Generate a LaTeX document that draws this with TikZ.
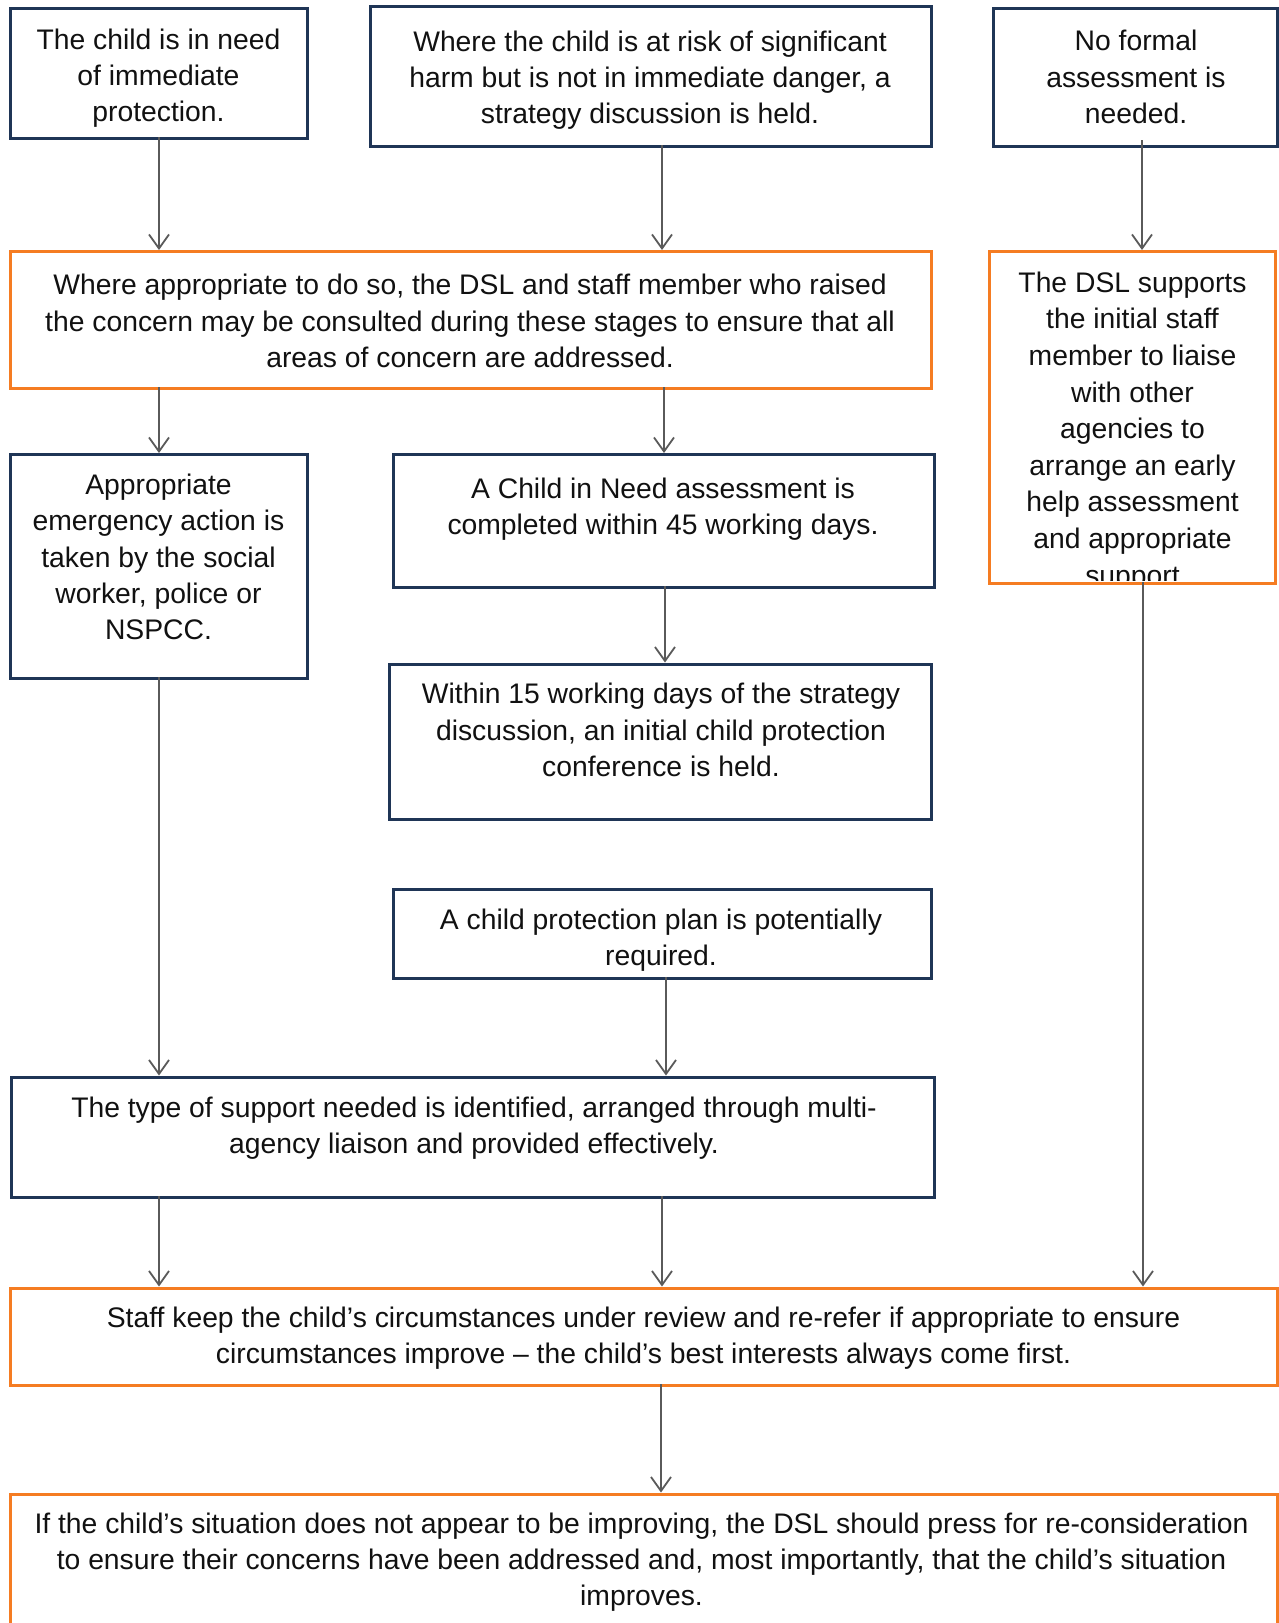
\documentclass[tikz,border=0pt]{standalone}
\usepackage{fontspec}
\setmainfont{Liberation Sans}
\usetikzlibrary{arrows.meta}
\definecolor{navy}{HTML}{1F3556}
\definecolor{orng}{HTML}{F57C22}
\definecolor{arr}{HTML}{5A5A5A}
\definecolor{txtc}{HTML}{111111}
\tikzset{
  nbox/.style={draw=navy, line width=3pt, inner sep=0pt},
  obox/.style={draw=orng, line width=3pt, inner sep=0pt},
  txt/.style={align=center, text=txtc, inner sep=0pt, font=\fontsize{28.3}{36.3}\selectfont},
  conn/.style={draw=arr, line width=1.8pt, -{Straight Barb[length=14pt,width=20pt,line width=1.8pt]}}
}
\newcommand{\bx}[6]{% style, name, x1, y1, x2, y2
  \node[#1, anchor=north west, minimum width={#5-#3+2.5}, minimum height={#6-#4+2.5}] (#2) at ({#3-2.5},{#4-2.5}) {};}
\begin{document}
\begin{tikzpicture}[x=1pt,y=-1pt]
\useasboundingbox (0,0) rectangle (1279,1623);
\clip (0,0) rectangle (1279,1623);
\fill[white] (0,0) rectangle (1279,1623);
% texts
\node[txt] (At) at (158.5,78) {The child is in need\\of immediate\\protection.};
\node[txt] (Bt) at (650,80) {Where the child is at risk of significant\\harm but is not in immediate danger, a\\strategy discussion is held.};
\node[txt] (Ct) at (1136,77) {No formal\\assessment is\\needed.};
\node[txt] (Dt) at (470,321) {Where appropriate to do so, the DSL and staff member who raised\\the concern may be consulted during these stages to ensure that all\\areas of concern are addressed.};
\node[txt] (Ft) at (158.5,557) {Appropriate\\emergency action is\\taken by the social\\worker, police or\\NSPCC.};
\node[txt] (Gt) at (663,509) {A Child in Need assessment is\\completed within 45 working days.};
\node[txt] (Ht) at (661,730) {Within 15 working days of the strategy\\discussion, an initial child protection\\conference is held.};
\node[txt] (It) at (661,940) {A child protection plan is potentially\\required.};
\node[txt] (Jt) at (474,1128) {The type of support needed is identified, arranged through multi-\\agency liaison and provided effectively.};
\node[txt] (Kt) at (643.5,1338) {Staff keep the child’s circumstances under review and re-refer if appropriate to ensure\\circumstances improve – the child’s best interests always come first.};
\node[txt] (Lt) at (641.5,1562) {If the child’s situation does not appear to be improving, the DSL should press for re-consideration\\to ensure their concerns have been addressed and, most importantly, that the child’s situation\\improves.};
\begin{scope}
\clip (989,252) rectangle (1273,580.5);
\node[txt, anchor=north, font=\fontsize{28.3}{36.6}\selectfont] (Et) at (1132.5,271.5) {The DSL supports\\the initial staff\\member to liaise\\with other\\agencies to\\arrange an early\\help assessment\\and appropriate\\support};
\end{scope}
% boxes
\bx{nbox}{A}{11.5}{9.5}{306}{137}
\bx{nbox}{B}{371.5}{7}{930}{145}
\bx{nbox}{C}{994.5}{9.5}{1275.5}{145}
\bx{obox}{D}{11.5}{252.5}{929.5}{387}
\bx{obox}{E}{990}{252.5}{1274}{582}
\bx{nbox}{F}{11.5}{455.5}{306}{677}
\bx{nbox}{G}{394.5}{455.5}{933}{586}
\bx{nbox}{H}{390.5}{665}{930}{818}
\bx{nbox}{I}{394.5}{890}{930}{977}
\bx{nbox}{J}{12.5}{1078}{933}{1196}
\bx{obox}{K}{11.5}{1289}{1275.5}{1384}
\bx{obox}{L}{11.5}{1495}{1275.5}{1700}
% connectors
\coordinate (a1) at (159,137);
\draw[conn] (a1) -- (a1 |- D.north);
\coordinate (b1) at (662,145);
\draw[conn] (b1) -- (b1 |- D.north);
\coordinate (c1) at (1142,140);
\draw[conn] (c1) -- (c1 |- E.north);
\coordinate (d1) at (159,387);
\draw[conn] (d1) -- (d1 |- F.north);
\coordinate (d2) at (664,387);
\draw[conn] (d2) -- (d2 |- G.north);
\coordinate (g1) at (665,586);
\draw[conn] (g1) -- (g1 |- H.north);
\coordinate (f1) at (159,677);
\draw[conn] (f1) -- (f1 |- J.north);
\coordinate (i1) at (666,977);
\draw[conn] (i1) -- (i1 |- J.north);
\coordinate (j1) at (159,1196);
\draw[conn] (j1) -- (j1 |- K.north);
\coordinate (j2) at (662,1196);
\draw[conn] (j2) -- (j2 |- K.north);
\coordinate (e1) at (1143,582);
\draw[conn] (e1) -- (e1 |- K.north);
\coordinate (k1) at (661,1384);
\draw[conn] (k1) -- (k1 |- L.north);
\end{tikzpicture}
\end{document}
